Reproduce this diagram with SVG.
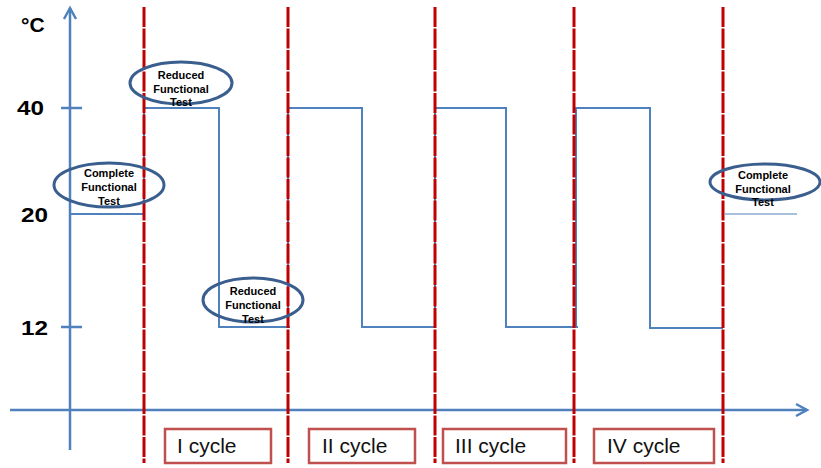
<svg xmlns="http://www.w3.org/2000/svg" width="821" height="468" viewBox="0 0 821 468">
<style>
.ax{stroke:#4f81bd;stroke-width:2.5;fill:none}
.pr{stroke:#4f81bd;stroke-width:2;fill:none}
.red{stroke:#c00000;stroke-width:3;stroke-dasharray:20 1.5;fill:none}
.ell{stroke:#3a5f8f;stroke-width:3;fill:none}
.lab{font-family:"Liberation Sans",Arial,sans-serif;font-weight:bold;font-size:21px;fill:#000}
.et{font-family:"Liberation Sans",Arial,sans-serif;font-weight:bold;font-size:11px;fill:#000;text-anchor:middle}
.box{stroke:#c0504d;stroke-width:2.5;fill:#fff}
.bt{font-family:"Liberation Sans",Arial,sans-serif;font-size:21px;fill:#111}
</style>
<rect width="821" height="468" fill="#fff"/>
<g id="axes">
<line class="ax" x1="70" y1="8" x2="70" y2="450"/>
<line class="ax" x1="10" y1="410" x2="807" y2="410"/>
<polyline class="ax" points="64,19 70,8 76,19"/>
<polyline class="ax" points="796,404 807,410 796,416"/>
<line class="ax" x1="61" y1="108" x2="82" y2="108"/>
<line class="ax" x1="61" y1="327" x2="82" y2="327"/>
<text class="lab" x="21" y="32">°C</text>
<text class="lab" x="17" y="115" textLength="27" lengthAdjust="spacingAndGlyphs">40</text>
<text class="lab" x="21" y="222" textLength="27" lengthAdjust="spacingAndGlyphs">20</text>
<text class="lab" x="21" y="335" textLength="27" lengthAdjust="spacingAndGlyphs">12</text>
</g>
<g id="profile">
<polyline class="pr" points="70,214 144,214 144,108 219,108 219,327 290,327 288,327 288,108 362,108 362,327 435,327 435,108 506,108 506,327 578,327 576,327 576,108 650,108 650,328 723,328"/>
<line x1="725" y1="214" x2="797" y2="214" stroke="#4f81bd" stroke-width="1"/>
</g>
<g id="cycle-lines">
<line class="red" x1="144" y1="7" x2="144" y2="463"/>
<line class="red" x1="288" y1="7" x2="288" y2="463"/>
<line class="red" x1="435" y1="7" x2="435" y2="463"/>
<line class="red" x1="574" y1="7" x2="574" y2="463"/>
<line class="red" x1="723" y1="7" x2="723" y2="463"/>
</g>
<g id="test1">
<ellipse class="ell" cx="109" cy="185" rx="55" ry="22"/>
<text class="et" x="109" y="177">Complete</text>
<text class="et" x="109" y="191">Functional</text>
<text class="et" x="109" y="205">Test</text>
</g>
<g id="test2">
<ellipse class="ell" cx="181" cy="83" rx="51" ry="21"/>
<text class="et" x="181" y="79">Reduced</text>
<text class="et" x="181" y="93">Functional</text>
<text class="et" x="181" y="106">Test</text>
</g>
<g id="test3">
<ellipse class="ell" cx="253" cy="300" rx="50" ry="22"/>
<text class="et" x="253" y="295">Reduced</text>
<text class="et" x="253" y="309">Functional</text>
<text class="et" x="253" y="323">Test</text>
</g>
<g id="test4">
<ellipse class="ell" cx="765" cy="182" rx="55" ry="18"/>
<text class="et" x="763" y="179">Complete</text>
<text class="et" x="763" y="193">Functional</text>
<text class="et" x="763" y="206">Test</text>
</g>
<g id="cycle1"><rect class="box" x="165" y="429" width="106" height="34"/><text class="bt" x="177" y="453">I cycle</text></g>
<g id="cycle2"><rect class="box" x="309" y="429" width="106" height="34"/><text class="bt" x="322" y="453">II cycle</text></g>
<g id="cycle3"><rect class="box" x="443" y="429" width="123" height="34"/><text class="bt" x="455" y="453">III cycle</text></g>
<g id="cycle4"><rect class="box" x="594" y="429" width="120" height="34"/><text class="bt" x="607" y="453">IV cycle</text></g>
</svg>
